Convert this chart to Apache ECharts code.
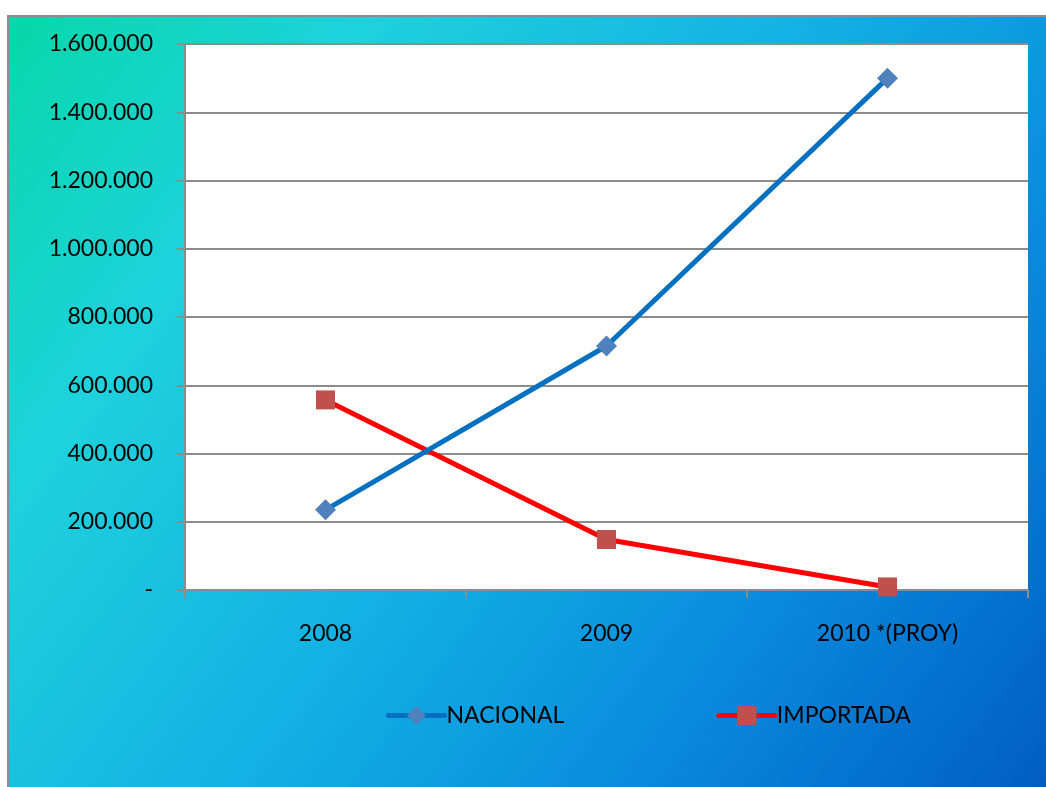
<!DOCTYPE html>
<html><head><meta charset="utf-8">
<script src="https://cdn.jsdelivr.net/npm/echarts@6/dist/echarts.min.js"></script>
<style>html,body{margin:0;padding:0;background:#fff}#c{width:1046px;height:787px}</style>
</head><body><div id="c"></div>
<script>
const categories = ['2008', '2009', '2010 *(PROY)'];
const nacional = [235000, 715000, 1500000];
const importada = [557000, 148000, 9000];
const yTicks = [0, 200000, 400000, 600000, 800000, 1000000, 1200000, 1400000, 1600000];

function fmt(v){ if(v===0) return '-'; return String(v).replace(/\B(?=(\d{3})+(?!\d))/g,'.'); }

const chart = echarts.init(document.getElementById('c'));
const font = 'Lato';
chart.setOption({
  animation:false,
  graphic:[{type:'rect', z:-10, silent:true, shape:{x:8,y:16,width:1046,height:780},
    style:{stroke:'#8c8c8c', lineWidth:2, fill:{type:'linear',x:0,y:0,x2:1,y2:1,colorStops:[
      {offset:0,color:'#06d8a8'},{offset:0.22,color:'#1ed2dc'},{offset:0.5,color:'#12b0e4'},{offset:0.75,color:'#0888dc'},{offset:1,color:'#005cc0'}]}}}],
  grid:{left:185, top:44, width:843, height:546, backgroundColor:'#fff', show:true, borderWidth:0},
  legend:{bottom:55, left:381, itemGap:152, itemWidth:56, itemHeight:24,
    textStyle:{fontFamily:font, fontSize:23, color:'#000', padding:[0,0,0,-3]},
    data:[{name:'NACIONAL', lineStyle:{width:5, cap:'round'}},{name:'IMPORTADA', lineStyle:{width:5, cap:'round'}}]},
  xAxis:{type:'category', data:categories, boundaryGap:true,
    axisLine:{lineStyle:{color:'#8c8c8c', width:2}},
    axisTick:{show:true, length:8, lineStyle:{color:'#8c8c8c', width:2}},
    axisLabel:{fontFamily:font, fontSize:23, color:'#000', margin:32}},
  yAxis:{type:'value', min:0, max:1600000, interval:200000,
    axisLine:{show:true, lineStyle:{color:'#8c8c8c', width:2}},
    axisTick:{show:true, length:8, lineStyle:{color:'#8c8c8c', width:2}},
    splitLine:{lineStyle:{color:'#8c8c8c', width:2}},
    axisLabel:{fontFamily:font, fontSize:23, color:'#000', margin:32, formatter:fmt}},
  series:[
    {name:'NACIONAL', type:'line', data:nacional, symbol:'diamond', symbolSize:21,
     lineStyle:{color:'#0070c0', width:5}, itemStyle:{color:'#4f81bd'}, z:3},
    {name:'IMPORTADA', type:'line', data:importada, symbol:'rect', symbolSize:19,
     lineStyle:{color:'#ff0000', width:5}, itemStyle:{color:'#c0504d'}, z:2}
  ]
});
</script></body></html>
